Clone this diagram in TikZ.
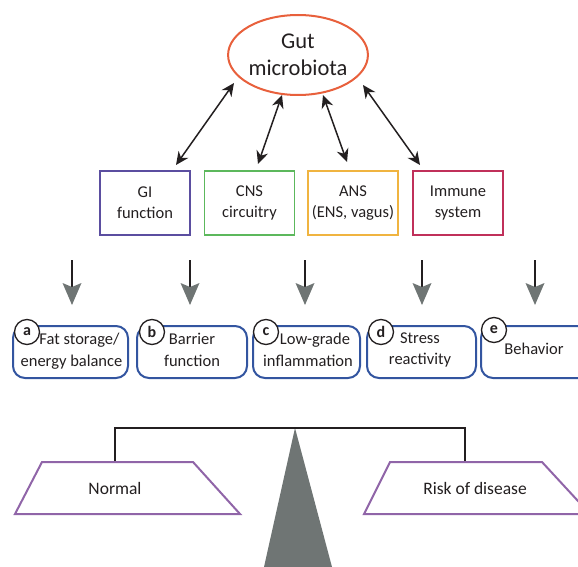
\documentclass[tikz,border=0pt]{standalone}
\usepackage{fontspec}
\setmainfont{Carlito}
\usetikzlibrary{arrows.meta,shapes.geometric}
\definecolor{ellc}{HTML}{E8603C}
\definecolor{gic}{HTML}{5B4EA0}
\definecolor{cnsc}{HTML}{5CB85C}
\definecolor{ansc}{HTML}{F0B440}
\definecolor{immc}{HTML}{C0305A}
\definecolor{outc}{HTML}{3355A0}
\definecolor{trapc}{HTML}{9065A8}
\definecolor{greyc}{HTML}{6F7574}
\definecolor{txtc}{HTML}{231F20}
\tikzset{
  topbox/.style={draw, line width=1.5pt, minimum width=90pt, minimum height=64pt, align=center, font=\fontsize{16.5}{21}\selectfont, text=txtc},
  outbox/.style={draw=outc, line width=2pt, rounded corners=12pt, minimum height=52pt, align=center, text=txtc},
  outtxt/.style={align=center, font=\fontsize{16.5}{21.5}\selectfont, text=txtc},
  letter/.style={circle, draw=txtc, fill=white, line width=1.3pt, minimum size=25pt, inner sep=0pt, font=\bfseries\fontsize{16}{16}\selectfont, text=txtc},
  dbl/.style={line width=1.5pt, draw=txtc, {Stealth[length=13pt,width=12pt]}-{Stealth[length=13pt,width=12pt]}},
  downarr/.style={line width=2.6pt, draw=txtc},
  trap/.style={draw=trapc, line width=2pt, fill=white},
  lbl/.style={font=\fontsize{17.5}{20}\selectfont, text=txtc}
}
\begin{document}
\begin{tikzpicture}[x=1pt,y=-1pt]
\useasboundingbox (0,0) rectangle (578,567);
% ellipse
\node[ellipse, draw=ellc, line width=2pt, minimum width=136pt, minimum height=80pt, inner sep=0pt, align=center, font=\fontsize{22.5}{27}\selectfont, text=txtc] (gut) at (298,55) {Gut\\microbiota};
% top boxes
\node[topbox, draw=gic] (gi) at (145,203) {GI\\function};
\node[topbox, draw=cnsc] (cns) at (249.5,203) {CNS\\circuitry};
\node[topbox, draw=ansc] (ans) at (353,203) {ANS\\(ENS, vagus)};
\node[topbox, draw=immc] (imm) at (458,203) {Immune\\system};
% double arrows
\coordinate (g1) at (234,83); \coordinate (b1) at (176,165);
\coordinate (g2) at (282,95); \coordinate (b2) at (258,164);
\coordinate (g3) at (323,95); \coordinate (b3) at (347,162);
\coordinate (g4) at (363,85); \coordinate (b4) at (420,165);
\draw[dbl] (b1) -- (g1);
\draw[dbl] (b2) -- (g2);
\draw[dbl] (b3) -- (g3);
\draw[dbl] (b4) -- (g4);
% down arrows
\foreach \i/\x in {1/72,2/190,3/305,4/422,5/535}{
  \coordinate (ds\i) at (\x,260);
  \coordinate (de\i) at (\x,288);
  \draw[downarr] (ds\i) -- (de\i);
  \fill[greyc] (\x-9.5,283) -- (\x,287) -- (\x+9.5,283) -- (\x,305) -- cycle;
}
% output boxes
\node[outbox, minimum width=115pt] (oa) at (70.5,352) {};
\node[outbox, minimum width=110pt] (ob) at (192,352) {};
\node[outbox, minimum width=107pt] (oc) at (306.5,352) {};
\node[outbox, minimum width=109pt] (od) at (421.5,352) {};
\node[outbox, minimum width=110pt] (oe) at (536,352) {};
\node[outtxt] (ta) at (71.5,351) {\hspace*{16pt}Fat storage/\\energy balance};
\node[outtxt] (tb) at (192,350) {Barrier\\function};
\node[outtxt] (tc) at (308,350) {\hspace*{14pt}Low-grade\\inflammation};
\node[outtxt] (td) at (420,350) {Stress\\reactivity};
\node[outtxt] (te) at (534,349) {Behavior};
\node[letter] (la) at (27,332) {a};
\node[letter] (lb) at (152,332) {b};
\node[letter] (lc) at (266,332) {c};
\node[letter] (ld) at (381,332) {d};
\node[letter] (le) at (494,330) {e};
% balance
\coordinate (apex) at (295,428);
\fill[greyc] (apex) -- (332,567) -- (264,567) -- cycle;
\coordinate (bl) at (115,428); \coordinate (br) at (465,428);
\coordinate (blb) at (115,462); \coordinate (brb) at (465,462);
\draw[line width=2.6pt, draw=txtc] (blb) -- (bl) -- (br) -- (brb);
\draw[trap] (42,462) -- (193,462) -- (240,514) -- (15,514) -- cycle;
\draw[trap] (390,462) -- (542,462) -- (590,514) -- (364,514) -- cycle;
\node[lbl] (normal) at (115,488) {Normal};
\node[lbl] (risk) at (475,488) {Risk of disease};
\end{tikzpicture}
\end{document}
